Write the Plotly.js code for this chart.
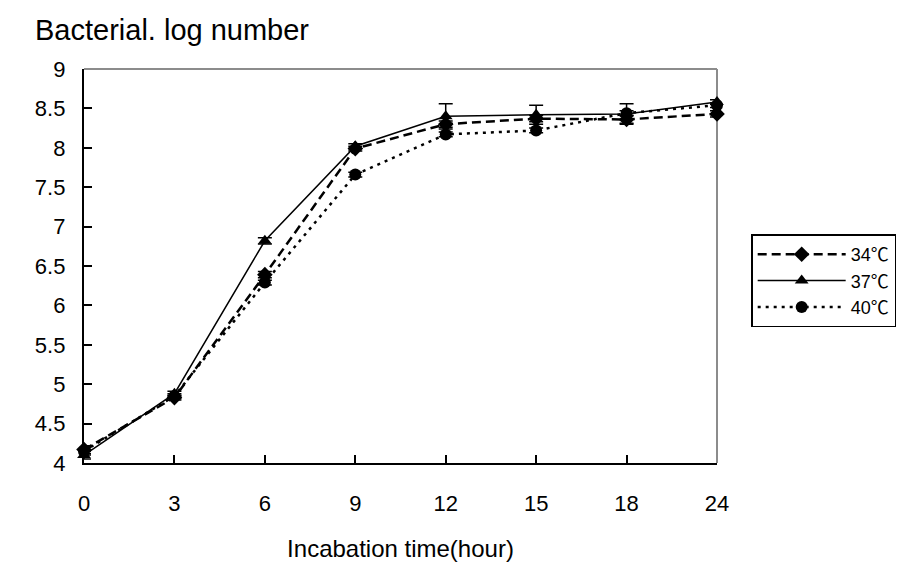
<!DOCTYPE html>
<html>
<head>
<meta charset="utf-8">
<script src="https://cdn.plot.ly/plotly-3.0.1.min.js"></script>
<style>html,body{margin:0;padding:0;background:#fff;}#chart{width:908px;height:565px;}</style>
</head>
<body>
<div id="chart"></div>
<script>
const hours = ['0','3','6','9','12','15','18','24'];
const names = ['34℃','37℃','40℃'];
const t34 = [4.17, 4.83, 6.39, 7.99, 8.30, 8.37, 8.36, 8.43];
const t37 = [4.10, 4.88, 6.82, 8.02, 8.40, 8.42, 8.43, 8.58];
const t40 = [4.15, 4.85, 6.29, 7.66, 8.17, 8.22, 8.44, 8.54];
const e34 = [0.05, 0.03, 0.04, 0.03, 0.04, 0.04, 0.05, 0.04];
const e37 = [0.05, 0.03, 0.04, 0.03, 0.16, 0.12, 0.13, 0.03];
const e40 = [0.05, 0.03, 0.03, 0.03, 0.03, 0.03, 0.03, 0.03];
const yTicks = [4, 4.5, 5, 5.5, 6, 6.5, 7, 7.5, 8, 8.5, 9];

const font = 'Liberation Sans, Arial, "Noto Sans CJK KR", sans-serif';

function trace(y, e, name, dash, sym, w) {
  return {
    x: hours, y: y, name: name, type: 'scatter', mode: 'lines+markers',
    line: {color: '#000', width: w, dash: dash},
    marker: {color: '#000', symbol: sym, size: 12},
    error_y: {type: 'data', array: e, visible: true, color: '#000', thickness: 1.5, width: 7},
    cliponaxis: false
  };
}

const data = [
  trace(t34, e34, names[0], '9px,5px', 'diamond', 2.5),
  trace(t37, e37, names[1], 'solid', 'triangle-up', 1.5),
  trace(t40, e40, names[2], '3px,5px', 'circle', 2.5)
];

const layout = {
  width: 908, height: 565,
  margin: {l: 84, r: 191, t: 69, b: 102},
  paper_bgcolor: '#fff', plot_bgcolor: '#fff',
  font: {family: font, color: '#000', size: 22},
  showlegend: true,
  legend: {
    x: 1.054, y: 0.58, xanchor: 'left', yanchor: 'top',
    bordercolor: '#000', borderwidth: 1.5, bgcolor: '#fff',
    font: {size: 18, family: font}, tracegroupgap: 0, itemwidth: 88
  },
  xaxis: {
    type: 'category', range: [0, 7], showline: true, linecolor: '#000', linewidth: 2,
    ticks: 'inside', ticklen: 8, tickcolor: '#000', tickwidth: 2,
    showgrid: false, zeroline: false, ticklabelstandoff: 20,
    tickfont: {size: 22},
    title: {text: 'Incabation time(hour)', font: {size: 24}, standoff: 25}
  },
  yaxis: {
    range: [4, 9], tickvals: yTicks, ticktext: yTicks.map(v => String(v) + '\u00a0\u00a0'),
    showline: true, linecolor: '#000', linewidth: 2,
    ticks: 'inside', ticklen: 8, tickcolor: '#000', tickwidth: 2,
    showgrid: false, zeroline: false,
    tickfont: {size: 22}
  },
  shapes: [
    {type: 'line', xref: 'paper', yref: 'paper', x0: 0, x1: 1, y0: 1, y1: 1, line: {color: '#8c8c8c', width: 2}, layer: 'below'},
    {type: 'line', xref: 'paper', yref: 'paper', x0: 1, x1: 1, y0: 0, y1: 1, line: {color: '#8c8c8c', width: 2}, layer: 'below'}
  ],
  annotations: [
    {text: 'Bacterial. log number', xref: 'paper', yref: 'paper', x: -0.081, y: 1.099,
     xanchor: 'left', yanchor: 'middle', showarrow: false, font: {size: 29}}
  ]
};

Plotly.newPlot('chart', data, layout, {displayModeBar: false, staticPlot: true});
</script>
</body>
</html>
